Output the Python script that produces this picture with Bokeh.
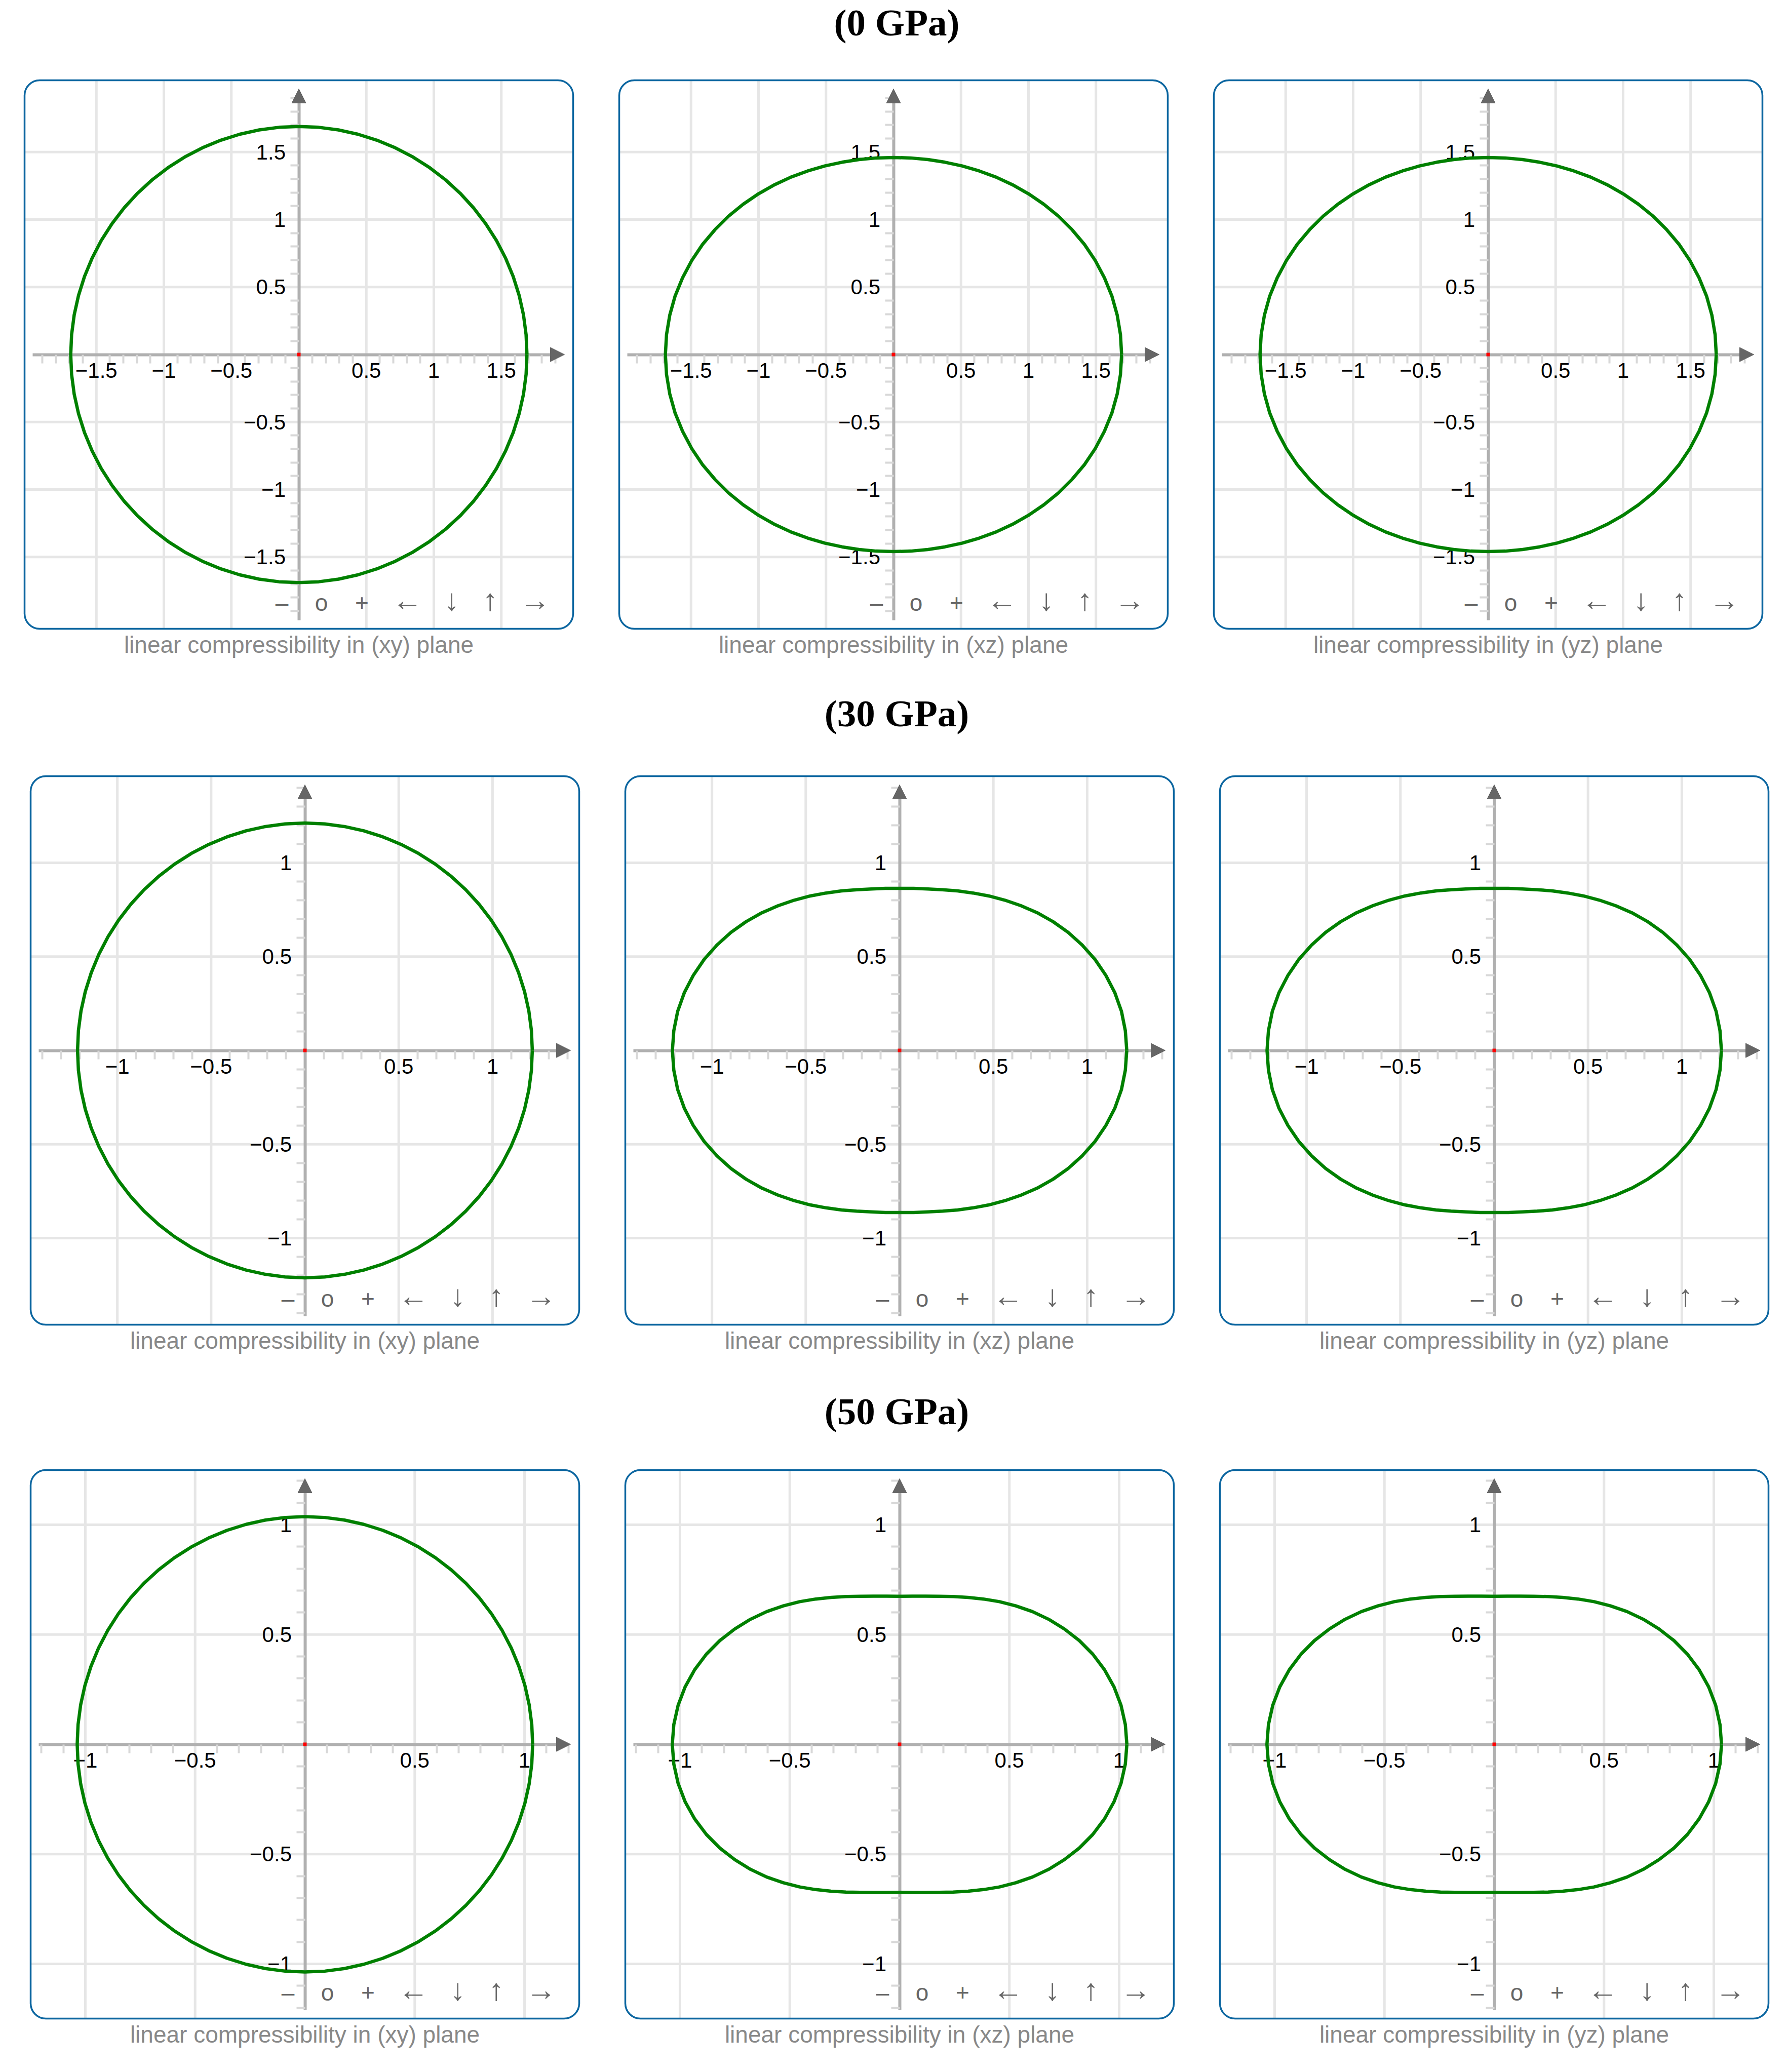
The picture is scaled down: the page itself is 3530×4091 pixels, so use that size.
import numpy as np
from bokeh.plotting import figure
from bokeh.layouts import column, row
from bokeh.models import (LinearAxis, FixedTicker, Range1d, Arrow, NormalHead,
                          BoxAnnotation)
from bokeh.core.properties import value
from bokeh.embed import file_html
from bokeh.resources import INLINE

# ------------------------------------------------------------------ data
# polar angle (degrees) of the sampled radii, first quadrant (curves are mirror-symmetric)
ANGLES_DEG = [0, 5, 10, 15, 20, 25, 30, 35, 40, 45, 50, 55, 60, 65, 70, 75, 80, 85, 90]

PRESSURE_TITLES = ["(0 GPa)", "(30 GPa)", "(50 GPa)"]
PLANE_CAPTIONS = ["linear compressibility in (xy) plane",
                  "linear compressibility in (xz) plane",
                  "linear compressibility in (yz) plane"]

# linear compressibility radius (TPa^-1), 0 GPa
R_0GPA_XY = [1.690, 1.690, 1.690, 1.690, 1.690, 1.690, 1.690, 1.690, 1.690, 1.690,
             1.690, 1.690, 1.690, 1.690, 1.690, 1.690, 1.690, 1.690, 1.690]
R_0GPA_XZ = [1.690, 1.688, 1.683, 1.675, 1.663, 1.649, 1.633, 1.614, 1.595, 1.575,
             1.555, 1.536, 1.518, 1.501, 1.487, 1.475, 1.467, 1.462, 1.460]
R_0GPA_YZ = [1.690, 1.688, 1.683, 1.675, 1.663, 1.649, 1.633, 1.614, 1.595, 1.575,
             1.555, 1.536, 1.518, 1.501, 1.487, 1.475, 1.467, 1.462, 1.460]
# 30 GPa
R_30GPA_XY = [1.212, 1.212, 1.212, 1.212, 1.212, 1.212, 1.212, 1.212, 1.212, 1.212,
              1.212, 1.212, 1.212, 1.212, 1.212, 1.212, 1.212, 1.212, 1.212]
R_30GPA_XZ = [1.211, 1.208, 1.201, 1.188, 1.170, 1.149, 1.124, 1.097, 1.068, 1.038,
              1.007, 0.978, 0.951, 0.926, 0.905, 0.887, 0.874, 0.867, 0.864]
R_30GPA_YZ = [1.211, 1.208, 1.201, 1.188, 1.170, 1.149, 1.124, 1.097, 1.068, 1.038,
              1.007, 0.978, 0.951, 0.926, 0.905, 0.887, 0.874, 0.867, 0.864]
# 50 GPa
R_50GPA_XY = [1.037, 1.037, 1.037, 1.037, 1.037, 1.037, 1.037, 1.037, 1.037, 1.037,
              1.037, 1.037, 1.037, 1.037, 1.037, 1.037, 1.037, 1.037, 1.037]
R_50GPA_XZ = [1.035, 1.032, 1.024, 1.011, 0.993, 0.971, 0.945, 0.916, 0.886, 0.855,
              0.823, 0.793, 0.764, 0.738, 0.716, 0.698, 0.685, 0.677, 0.674]
R_50GPA_YZ = [1.035, 1.032, 1.024, 1.011, 0.993, 0.971, 0.945, 0.916, 0.886, 0.855,
              0.823, 0.793, 0.764, 0.738, 0.716, 0.698, 0.685, 0.677, 0.674]

# half-extent of each board (axis range)
EXTENT = [2.032, 1.462, 1.249]

TICKS_0GPA = [-1.5, -1.0, -0.5, 0.5, 1.0, 1.5]
TICK_LABELS_0GPA = ["\u22121.5", "\u22121", "\u22120.5", "0.5", "1", "1.5"]
TICKS_HIGH = [-1.0, -0.5, 0.5, 1.0]
TICK_LABELS_HIGH = ["\u22121", "\u22120.5", "0.5", "1"]

NAV_SYMBOLS = ["\u2013", "o", "+"]
NAV_ARROWS = ["\u2190", "\u2193", "\u2191", "\u2192"]

CURVES = [[R_0GPA_XY, R_0GPA_XZ, R_0GPA_YZ],
          [R_30GPA_XY, R_30GPA_XZ, R_30GPA_YZ],
          [R_50GPA_XY, R_50GPA_XZ, R_50GPA_YZ]]
TICKS = [TICKS_0GPA, TICKS_HIGH, TICKS_HIGH]
TICK_LABELS = [TICK_LABELS_0GPA, TICK_LABELS_HIGH, TICK_LABELS_HIGH]

# ------------------------------------------------------------------ style / layout
BOX = 1083          # board size in px
PAD = 4             # frame padding around board
FRAME = BOX + 2 * PAD
PITCH = 1174
ROW_LEFT = [44, 56, 56]
LAST_RIGHT = 20
STRIP_W = 3500
STRIP_H = [154, 283, 279, 80]
NAV_SYM_OFFSETS = [575, 497, 417]     # px from board's right edge
NAV_ARROW_OFFSETS = [327, 240, 164, 75]

GREEN = "#008000"
BORDER = "#0c66a0"
GRID_C = "#e6e6e6"
AXIS_C = "#b0b0b0"
ARROW_C = "#666666"
TICK_C = "#d8d8d8"
CAPTION_C = "#888888"
NAV_C = "#666666"


def closed_polar(quarter):
    half_r = list(quarter) + list(quarter[-2::-1])
    half_a = list(ANGLES_DEG) + [180 - a for a in ANGLES_DEG[-2::-1]]
    full_r = half_r + half_r[-2::-1]
    full_a = half_a + [360 - a for a in half_a[-2::-1]]
    th = np.deg2rad(np.array(full_a, dtype=float))
    r = np.array(full_r)
    return r * np.cos(th), r * np.sin(th)


def make_panel(quarter, R, ticks, labels, left_b, right_b):
    s = (BOX / 2) / R
    pu = PAD / s
    p = figure(frame_width=FRAME, frame_height=FRAME,
               x_range=Range1d(-R - pu, R + pu), y_range=Range1d(-R - pu, R + pu),
               output_backend="svg", toolbar_location=None,
               x_axis_location=None, y_axis_location=None,
               min_border_left=left_b, min_border_right=right_b,
               min_border_top=0, min_border_bottom=0,
               background_fill_color="white", border_fill_color="white",
               outline_line_color=None)
    p.xgrid.visible = False
    p.ygrid.visible = False

    n = len(ticks)
    p.segment(x0=ticks, y0=[-R] * n, x1=ticks, y1=[R] * n,
              line_color=GRID_C, line_width=5, level="image")
    p.segment(x0=[-R] * n, y0=ticks, x1=[R] * n, y1=ticks,
              line_color=GRID_C, line_width=5, level="image")

    minor = [round(k * 0.1, 1) for k in range(-25, 26) if k % 5 != 0]
    overrides = {t: lab for t, lab in zip(ticks, labels)}
    xa = LinearAxis(fixed_location=0, bounds=(-R + 16 / s, R - 45 / s),
                    ticker=FixedTicker(ticks=ticks, minor_ticks=minor),
                    major_label_overrides=overrides)
    ya = LinearAxis(fixed_location=0, bounds=(-R + 17 / s, R - 45 / s),
                    ticker=FixedTicker(ticks=ticks, minor_ticks=minor),
                    major_label_overrides=overrides)
    for ax in (xa, ya):
        ax.axis_line_color = AXIS_C
        ax.axis_line_width = 6
        ax.major_tick_out = 0
        ax.major_tick_in = 0
        ax.major_tick_line_color = None
        ax.minor_tick_out = 17
        ax.minor_tick_in = 0
        ax.minor_tick_line_color = TICK_C
        ax.minor_tick_line_width = 4
        ax.major_label_text_font = "Liberation Sans"
        ax.major_label_text_font_size = "42px"
        ax.major_label_text_color = "#000000"
        ax.level = "underlay"
    xa.major_label_standoff = 0
    ya.major_label_standoff = 9
    p.add_layout(xa, "below")
    p.add_layout(ya, "left")

    p.add_layout(Arrow(end=NormalHead(size=28, fill_color=ARROW_C, line_color=ARROW_C, line_width=1),
                       x_start=R - 60 / s, y_start=0, x_end=R - 17 / s, y_end=0, line_alpha=0))
    p.add_layout(Arrow(end=NormalHead(size=28, fill_color=ARROW_C, line_color=ARROW_C, line_width=1),
                       x_start=0, y_start=R - 60 / s, x_end=0, y_end=R - 17 / s, line_alpha=0))

    cx, cy = closed_polar(quarter)
    p.line(cx, cy, line_color=GREEN, line_width=6.5, line_join="round")
    p.scatter(x=[0], y=[0], marker="square", size=7, fill_color="#ff0000", line_color=None)

    p.text(x=[R - o / s for o in NAV_SYM_OFFSETS], y=[-R + 52 / s] * len(NAV_SYMBOLS),
           text=NAV_SYMBOLS, text_font=value("Liberation Sans"), text_font_size="46px",
           text_color=NAV_C, text_align="center", text_baseline="middle")
    p.text(x=[R - o / s for o in NAV_ARROW_OFFSETS], y=[-R + 57 / s] * len(NAV_ARROWS),
           text=NAV_ARROWS, text_font=value("Liberation Sans"), text_font_size="60px",
           text_color=NAV_C, text_align="center", text_baseline="middle")

    p.add_layout(BoxAnnotation(left=-R, right=R, bottom=-R, top=R,
                               fill_alpha=0, line_color=BORDER, line_alpha=1.0,
                               line_width=3.5, border_radius=30))
    return p


def make_strip(height, texts):
    p = figure(width=STRIP_W, height=height, x_range=Range1d(0, STRIP_W),
               y_range=Range1d(height, 0), output_backend="svg", toolbar_location=None,
               x_axis_location=None, y_axis_location=None, min_border=0,
               outline_line_color=None, background_fill_color="white",
               border_fill_color="white")
    p.xgrid.visible = False
    p.ygrid.visible = False
    for (xs, ys, tx, font, style, size, color) in texts:
        p.text(x=xs, y=ys, text=tx, text_font=value(font), text_font_style=style,
               text_font_size=size, text_color=color, text_align="center",
               text_baseline="middle")
    return p


def caption_spec(row_i, y):
    L = ROW_LEFT[row_i]
    xs = [L + k * PITCH + FRAME / 2 for k in range(3)]
    return (xs, [y] * 3, PLANE_CAPTIONS, "Liberation Sans", "normal", "46px", CAPTION_C)


def title_spec(i, y):
    return ([1770], [y], [PRESSURE_TITLES[i]], "Liberation Serif", "bold", "75px", "#000000")


rows = []
for i in range(3):
    figs = []
    for j in range(3):
        L = ROW_LEFT[i]
        Rb = PITCH - FRAME - L if j < 2 else LAST_RIGHT
        figs.append(make_panel(CURVES[i][j], EXTENT[i], TICKS[i], TICK_LABELS[i], L, Rb))
    rows.append(row(*figs, spacing=0))

strip_a = make_strip(STRIP_H[0], [title_spec(0, 44)])
strip_b = make_strip(STRIP_H[1], [caption_spec(0, 27), title_spec(1, STRIP_H[1] - 120)])
strip_c = make_strip(STRIP_H[2], [caption_spec(1, 27), title_spec(2, STRIP_H[2] - 112)])
strip_d = make_strip(STRIP_H[3], [caption_spec(2, 27)])

layout = column(strip_a, rows[0], strip_b, rows[1], strip_c, rows[2], strip_d, spacing=0)

open("out.html", "w").write(file_html(layout, INLINE))
